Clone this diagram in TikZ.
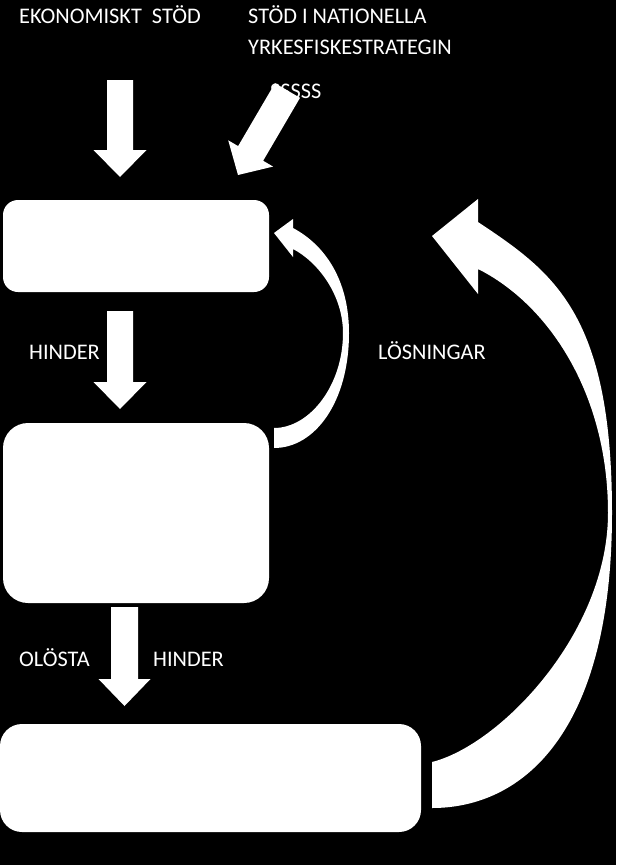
\documentclass[tikz,border=0pt]{standalone}
\usepackage{fontspec}
\setmainfont{Carlito}
\usetikzlibrary{calc}
\tikzset{
  box/.style={fill=white, draw=none, inner sep=0pt},
  lbl/.style={text=white, anchor=base west, inner sep=0pt, font=\fontsize{22.3}{26}\selectfont},
  blockfill/.style={fill=white, draw=none}
}
\newcommand\blockarrow[5]{%
  \coordinate (hb) at ($(#2)!#5!(#1)$);
  \fill[blockfill] ($(#1)!#3!90:(#2)$) -- ($(hb)!#3!90:(#2)$) -- ($(hb)!#4!90:(#2)$) -- (#2)
    -- ($(hb)!#4!-90:(#2)$) -- ($(hb)!#3!-90:(#2)$) -- ($(#1)!#3!-90:(#2)$) -- cycle;
}
\begin{document}
\begin{tikzpicture}[x=1pt,y=-1pt]
\fill[black] (0,0) rectangle (616,865);
\useasboundingbox (0,0) rectangle (616,865);

% boxes
\node[box, rounded corners=15pt, minimum width=266pt, minimum height=92pt] (b1) at (136,246) {};
\node[box, rounded corners=25pt, minimum width=266pt, minimum height=180pt] (b2) at (136,513) {};
\node[box, rounded corners=22pt, minimum width=421pt, minimum height=108pt] (b3) at (210.5,778) {};

% labels
\node[lbl] (eko) at (19,23) {EKONOMISKT\ \ STÖD};
\node[lbl] (nat1) at (248,23) {STÖD I NATIONELLA};
\node[lbl] (nat2) at (248,54) {YRKESFISKESTRATEGIN};
\node[lbl] (sss) at (270,98) {SSSSS};
\node[lbl] (hind1) at (29,359) {HINDER};
\node[lbl] (los) at (378,359) {LÖSNINGAR};
\node[lbl] (olo) at (19,666) {OLÖSTA};
\node[lbl] (hind2) at (153,666) {HINDER};

% straight block arrows
\coordinate (a1s) at (120,80);   \coordinate (a1e) at (120,177);
\coordinate (a2s) at (120,311);  \coordinate (a2e) at (120,409);
\coordinate (a3s) at (124.5,607); \coordinate (a3e) at (124.5,706);
\coordinate (a4s) at (287.5,90.5); \coordinate (a4e) at (238,175);
\blockarrow{a1s}{a1e}{13pt}{26.5pt}{27pt}
\blockarrow{a2s}{a2e}{13pt}{26.5pt}{27pt}
\blockarrow{a3s}{a3e}{13.5pt}{26pt}{27pt}
\blockarrow{a4s}{a4e}{14.5pt}{26pt}{25pt}

% small curved arrow (LÖSNINGAR)
\fill[blockfill] (274,448) .. controls (315,448) and (349,402) .. (349,333)
  .. controls (349,280) and (325,245) .. (293,228) -- (293,219) -- (274,233) -- (293,257) -- (293,249)
  .. controls (318,262) and (343,295) .. (343,333)
  .. controls (343,385) and (310,428) .. (274,428) -- cycle;

% big curved arrow
\fill[blockfill] (432,808) .. controls (522,808) and (612,734) .. (612,513)
  .. controls (612,313) and (553,272) .. (478,222) -- (478,199) -- (432,236) -- (478,294) -- (478,269)
  .. controls (548,304) and (608,393) .. (608,513)
  .. controls (608,633) and (500,745) .. (432,762) -- cycle;
\end{tikzpicture}
\end{document}
